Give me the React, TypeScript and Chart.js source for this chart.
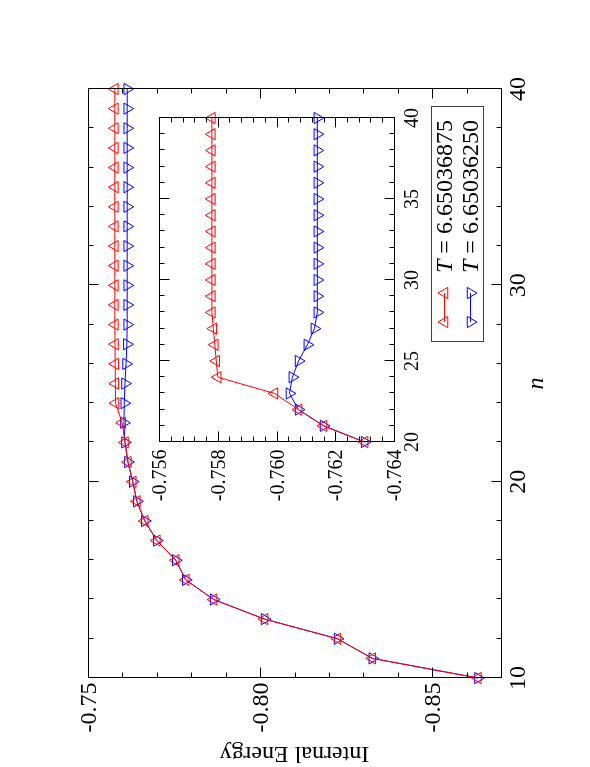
import React, { useEffect, useRef } from 'react';
import { Chart, registerables } from 'chart.js';

Chart.register(...registerables);

// ---- data ----
const nValues = [10, 11, 12, 13, 14, 15, 16, 17, 18, 19, 20, 21, 22, 23, 24, 25, 26, 27, 28, 29, 30, 31, 32, 33, 34, 35, 36, 37, 38, 39, 40];
// T = 6.65036875 (red)
const energyRed = [-0.8633, -0.8326, -0.8225, -0.8013, -0.7865, -0.7784, -0.7755, -0.7700, -0.7665, -0.7642, -0.7630, -0.7616, -0.76075, -0.75993, -0.7580, -0.75795, -0.7579, -0.75785, -0.7578, -0.7578, -0.7578, -0.7578, -0.7578, -0.7578, -0.7578, -0.7578, -0.7578, -0.7578, -0.7578, -0.7578, -0.7578];
// T = 6.65036250 (blue)
const energyBlue = [-0.8633, -0.8326, -0.8225, -0.8013, -0.7865, -0.7784, -0.7755, -0.7700, -0.7665, -0.7642, -0.7630, -0.7616, -0.76075, -0.76044, -0.76054, -0.76075, -0.76105, -0.76129, -0.76139, -0.76139, -0.76139, -0.76139, -0.76139, -0.76139, -0.76139, -0.76139, -0.76139, -0.76139, -0.76139, -0.76139, -0.76139];
const legendValues = ['6.65036875', '6.65036250'];
const seriesColors = ['#ff0000', '#0000ff'];

const mainXTicks = [10, 20, 30, 40];
const mainXTickLabels = ['10', '20', '30', '40'];
const mainYTicks = [-0.75, -0.8, -0.85];
const mainYTickLabels = ['-0.75', '-0.80', '-0.85'];

const insetStartN = 20;
const insetXTicks = [20, 25, 30, 35, 40];
const insetXTickLabels = ['20', '25', '30', '35', '40'];
const insetYTicks = [-0.756, -0.758, -0.76, -0.762, -0.764];
const insetYTickLabels = ['-0.756', '-0.758', '-0.760', '-0.762', '-0.764'];

const xTitle = 'n';
const yTitle = 'Internal Energy';

const SERIF = '"Liberation Serif", "Times New Roman", serif';

type FrameCfg = {
  xMinor: number; xMajors: number[]; xLabels: string[];
  yMinor: number; yMajors: number[]; yLabels: string[];
  majorLen: number; minorLen: number; fontSize: number;
  xLabelGap: number; yLabelGap: number; yLabelShift: number;
};

function makeFramePlugin(cfg: FrameCfg) {
  return {
    id: 'frameTicks',
    afterDraw(chart: any) {
      const ctx = chart.ctx as CanvasRenderingContext2D;
      const xs = chart.scales.x;
      const ys = chart.scales.y;
      const a = chart.chartArea;
      const L = Math.round(a.left) + 0.5;
      const R = Math.round(a.right) + 0.5;
      const T = Math.round(a.top) + 0.5;
      const B = Math.round(a.bottom) + 0.5;
      ctx.save();
      ctx.strokeStyle = '#000';
      ctx.lineWidth = 1;
      ctx.beginPath();
      ctx.rect(L, T, R - L, B - T);
      const nx = Math.round((xs.max - xs.min) / cfg.xMinor);
      for (let i = 0; i <= nx; i++) {
        const v = xs.min + i * cfg.xMinor;
        const major = cfg.xMajors.some((m) => Math.abs(m - v) < cfg.xMinor / 10);
        const len = major ? cfg.majorLen : cfg.minorLen;
        const p = Math.round(xs.getPixelForValue(v)) + 0.5;
        ctx.moveTo(p, B); ctx.lineTo(p, B - len);
        ctx.moveTo(p, T); ctx.lineTo(p, T + len);
      }
      const ny = Math.round((ys.max - ys.min) / cfg.yMinor);
      for (let i = 0; i <= ny; i++) {
        const v = ys.min + i * cfg.yMinor;
        const major = cfg.yMajors.some((m) => Math.abs(m - v) < cfg.yMinor / 10);
        const len = major ? cfg.majorLen : cfg.minorLen;
        const p = Math.round(ys.getPixelForValue(v)) + 0.5;
        ctx.moveTo(L, p); ctx.lineTo(L + len, p);
        ctx.moveTo(R, p); ctx.lineTo(R - len, p);
      }
      ctx.stroke();
      ctx.fillStyle = '#000';
      ctx.font = `${cfg.fontSize}px ${SERIF}`;
      ctx.textAlign = 'center';
      ctx.textBaseline = 'alphabetic';
      cfg.xMajors.forEach((m, i) => {
        ctx.fillText(cfg.xLabels[i], xs.getPixelForValue(m), B + cfg.xLabelGap);
      });
      ctx.textAlign = 'right';
      cfg.yMajors.forEach((m, i) => {
        ctx.fillText(cfg.yLabels[i], L - cfg.yLabelGap, ys.getPixelForValue(m) + cfg.yLabelShift);
      });
      ctx.restore();
    },
  };
}

function drawTriangle(ctx: CanvasRenderingContext2D, x: number, y: number, r: number, rotDeg: number) {
  let rad = (rotDeg * Math.PI) / 180;
  ctx.beginPath();
  ctx.moveTo(x + Math.sin(rad) * r, y - Math.cos(rad) * r);
  rad += (2 * Math.PI) / 3;
  ctx.lineTo(x + Math.sin(rad) * r, y - Math.cos(rad) * r);
  rad += (2 * Math.PI) / 3;
  ctx.lineTo(x + Math.sin(rad) * r, y - Math.cos(rad) * r);
  ctx.closePath();
  ctx.stroke();
}

const titlesLegendPlugin = {
  id: 'titlesLegend',
  afterDraw(chart: any) {
    const ctx = chart.ctx as CanvasRenderingContext2D;
    const a = chart.chartArea;
    ctx.save();
    ctx.fillStyle = '#000';
    // y title
    ctx.font = `24px ${SERIF}`;
    ctx.textAlign = 'center';
    ctx.textBaseline = 'alphabetic';
    ctx.save();
    ctx.translate(20, (a.top + a.bottom) / 2);
    ctx.rotate(-Math.PI / 2);
    ctx.fillText(yTitle, 0, 0);
    ctx.restore();
    // x title
    ctx.font = `italic 24px ${SERIF}`;
    ctx.fillText(xTitle, (a.left + a.right) / 2, a.bottom + 42);
    // legend box
    ctx.strokeStyle = '#444';
    ctx.lineWidth = 1;
    ctx.strokeRect(425.5, 431.5, 235, 52);
    const rows = [444, 470];
    legendValues.forEach((val, i) => {
      const y = rows[i];
      ctx.strokeStyle = seriesColors[i];
      ctx.lineWidth = 1;
      ctx.beginPath();
      ctx.moveTo(445, y + 0.5);
      ctx.lineTo(474, y + 0.5);
      ctx.stroke();
      drawTriangle(ctx, 445, y + 0.5, 6.5, i === 0 ? 0 : 180);
      drawTriangle(ctx, 474, y + 0.5, 6.5, i === 0 ? 0 : 180);
      ctx.fillStyle = '#000';
      ctx.textAlign = 'left';
      ctx.font = `italic 24px ${SERIF}`;
      ctx.fillText('T', 494, y + 8);
      const w = ctx.measureText('T').width;
      ctx.font = `24px ${SERIF}`;
      ctx.fillText(' = ' + val, 494 + w, y + 8);
    });
    ctx.restore();
  },
};

function makeDatasets(fromN: number) {
  const idx = nValues.findIndex((n) => n >= fromN);
  const ns = nValues.slice(idx);
  const series = [energyRed.slice(idx), energyBlue.slice(idx)];
  return series.map((vals, i) => ({
    label: 'T = ' + legendValues[i],
    data: ns.map((n, k) => ({ x: n, y: vals[k] })),
    borderColor: seriesColors[i],
    borderWidth: 1,
    pointStyle: 'triangle',
    pointRadius: 6.5,
    pointBorderColor: seriesColors[i],
    pointBackgroundColor: 'rgba(0,0,0,0)',
    pointBorderWidth: 1,
    pointRotation: i === 0 ? 0 : 180,
    tension: 0,
    clip: false,
    fill: false,
  }));
}

export default function App() {
  const mainRef = useRef<HTMLCanvasElement>(null);
  const insetRef = useRef<HTMLCanvasElement>(null);

  useEffect(() => {
    const main = new Chart(mainRef.current as HTMLCanvasElement, {
      type: 'line',
      data: { datasets: makeDatasets(nValues[0]) as any },
      options: {
        animation: false,
        responsive: false,
        maintainAspectRatio: false,
        layout: { padding: { left: 89, right: 89, top: 88, bottom: 89 } },
        plugins: { legend: { display: false }, tooltip: { enabled: false } },
        scales: {
          x: { type: 'linear', min: 10, max: 40, display: false },
          y: { type: 'linear', min: -0.87, max: -0.75, display: false },
        },
      },
      plugins: [
        makeFramePlugin({
          xMinor: 2, xMajors: mainXTicks, xLabels: mainXTickLabels,
          yMinor: 0.01, yMajors: mainYTicks, yLabels: mainYTickLabels,
          majorLen: 10, minorLen: 5, fontSize: 24,
          xLabelGap: 23, yLabelGap: 5, yLabelShift: 8,
        }),
        titlesLegendPlugin,
      ],
    });
    const inset = new Chart(insetRef.current as HTMLCanvasElement, {
      type: 'line',
      data: { datasets: makeDatasets(insetStartN) as any },
      options: {
        animation: false,
        responsive: false,
        maintainAspectRatio: false,
        layout: { padding: { left: 325, right: 118, top: 159, bottom: 196 } },
        plugins: { legend: { display: false }, tooltip: { enabled: false } },
        scales: {
          x: { type: 'linear', min: 20, max: 40, display: false },
          y: { type: 'linear', min: -0.764, max: -0.756, display: false },
        },
      },
      plugins: [
        makeFramePlugin({
          xMinor: 1, xMajors: insetXTicks, xLabels: insetXTickLabels,
          yMinor: 0.0004, yMajors: insetYTicks, yLabels: insetYTickLabels,
          majorLen: 10, minorLen: 5, fontSize: 20,
          xLabelGap: 23, yLabelGap: 8, yLabelShift: 7,
        }),
      ],
    });
    return () => {
      main.destroy();
      inset.destroy();
    };
  }, []);

  return (
    <div style={{ position: 'fixed', left: 0, top: 0, width: 590, height: 767, background: '#fff', overflow: 'hidden' }}>
      <div
        style={{
          position: 'absolute', left: 0, top: 0, width: 767, height: 590,
          transformOrigin: '0 0', transform: 'translate(0px, 767px) rotate(-90deg)',
        }}
      >
        <canvas ref={mainRef} width={767} height={590} style={{ position: 'absolute', left: 0, top: 0 }} />
        <canvas ref={insetRef} width={767} height={590} style={{ position: 'absolute', left: 0, top: 0 }} />
      </div>
    </div>
  );
}
